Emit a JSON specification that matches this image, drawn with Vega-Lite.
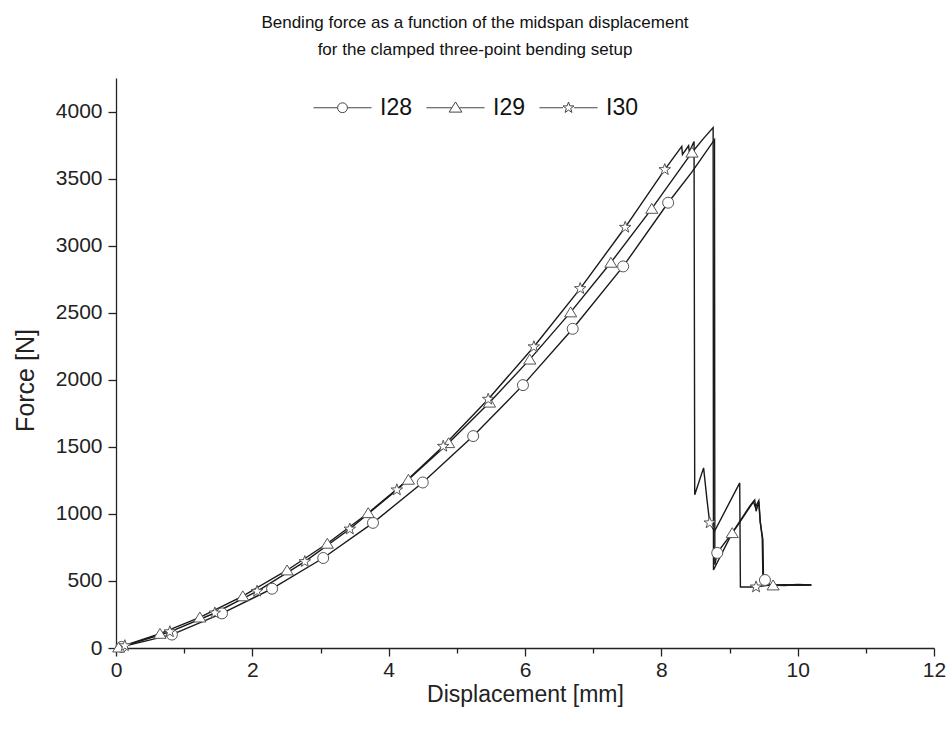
{
  "$schema": "https://vega.github.io/schema/vega-lite/v6.json",
  "width": 818,
  "height": 570,
  "autosize": {"type": "none"},
  "padding": {"left": 116, "top": 78, "right": 15, "bottom": 83},
  "background": "white",
  "config": {"view": {"stroke": null}, "font": "Liberation Sans"},
  "title": {
    "text": ["Bending force as a function of the midspan displacement", "for the clamped three-point bending setup"],
    "font": "Liberation Sans",
    "fontSize": 17,
    "fontWeight": "normal",
    "color": "#111",
    "anchor": "middle",
    "dx": -50,
    "offset": 19,
    "lineHeight": 27
  },
  "datasets": {
    "curves": [
      {"s": "I28", "x": 0, "y": 0, "m": 0},
      {"s": "I28", "x": 0.08, "y": 8, "m": 1},
      {"s": "I28", "x": 0.82, "y": 100, "m": 1},
      {"s": "I28", "x": 1.555, "y": 258, "m": 1},
      {"s": "I28", "x": 2.29, "y": 442, "m": 1},
      {"s": "I28", "x": 3.04, "y": 671, "m": 1},
      {"s": "I28", "x": 3.77, "y": 933, "m": 1},
      {"s": "I28", "x": 4.5, "y": 1234, "m": 1},
      {"s": "I28", "x": 5.24, "y": 1580, "m": 1},
      {"s": "I28", "x": 5.97, "y": 1960, "m": 1},
      {"s": "I28", "x": 6.7, "y": 2380, "m": 1},
      {"s": "I28", "x": 7.44, "y": 2845, "m": 1},
      {"s": "I28", "x": 8.1, "y": 3320, "m": 1},
      {"s": "I28", "x": 8.45, "y": 3550, "m": 0},
      {"s": "I28", "x": 8.78, "y": 3790, "m": 0},
      {"s": "I28", "x": 8.785, "y": 620, "m": 0},
      {"s": "I28", "x": 8.82, "y": 709, "m": 1},
      {"s": "I28", "x": 9.1, "y": 900, "m": 0},
      {"s": "I28", "x": 9.35, "y": 1090, "m": 0},
      {"s": "I28", "x": 9.38, "y": 1050, "m": 0},
      {"s": "I28", "x": 9.43, "y": 1100, "m": 0},
      {"s": "I28", "x": 9.45, "y": 950, "m": 0},
      {"s": "I28", "x": 9.48, "y": 820, "m": 0},
      {"s": "I28", "x": 9.49, "y": 520, "m": 0},
      {"s": "I28", "x": 9.52, "y": 507, "m": 1},
      {"s": "I28", "x": 9.6, "y": 472, "m": 0},
      {"s": "I28", "x": 9.8, "y": 468, "m": 0},
      {"s": "I28", "x": 10.0, "y": 474, "m": 0},
      {"s": "I28", "x": 10.2, "y": 470, "m": 0},
      {"s": "I29", "x": 0, "y": 0, "m": 0},
      {"s": "I29", "x": 0.04, "y": 5, "m": 1},
      {"s": "I29", "x": 0.645, "y": 107, "m": 1},
      {"s": "I29", "x": 1.23, "y": 229, "m": 1},
      {"s": "I29", "x": 1.86, "y": 387, "m": 1},
      {"s": "I29", "x": 2.51, "y": 580, "m": 1},
      {"s": "I29", "x": 3.1, "y": 779, "m": 1},
      {"s": "I29", "x": 3.7, "y": 1007, "m": 1},
      {"s": "I29", "x": 4.29, "y": 1256, "m": 1},
      {"s": "I29", "x": 4.88, "y": 1529, "m": 1},
      {"s": "I29", "x": 5.48, "y": 1831, "m": 1},
      {"s": "I29", "x": 6.07, "y": 2152, "m": 1},
      {"s": "I29", "x": 6.67, "y": 2504, "m": 1},
      {"s": "I29", "x": 7.26, "y": 2874, "m": 1},
      {"s": "I29", "x": 7.86, "y": 3276, "m": 1},
      {"s": "I29", "x": 8.45, "y": 3695, "m": 1},
      {"s": "I29", "x": 8.62, "y": 3800, "m": 0},
      {"s": "I29", "x": 8.76, "y": 3880, "m": 0},
      {"s": "I29", "x": 8.765, "y": 582, "m": 0},
      {"s": "I29", "x": 9.04, "y": 858, "m": 1},
      {"s": "I29", "x": 9.3, "y": 1060, "m": 0},
      {"s": "I29", "x": 9.37, "y": 1104, "m": 0},
      {"s": "I29", "x": 9.39, "y": 1020, "m": 0},
      {"s": "I29", "x": 9.43, "y": 1090, "m": 0},
      {"s": "I29", "x": 9.45, "y": 940, "m": 0},
      {"s": "I29", "x": 9.49, "y": 806, "m": 0},
      {"s": "I29", "x": 9.5, "y": 470, "m": 0},
      {"s": "I29", "x": 9.64, "y": 468, "m": 1},
      {"s": "I29", "x": 9.8, "y": 472, "m": 0},
      {"s": "I29", "x": 10.0, "y": 468, "m": 0},
      {"s": "I29", "x": 10.2, "y": 471, "m": 0},
      {"s": "I30", "x": 0, "y": 0, "m": 0},
      {"s": "I30", "x": 0.13, "y": 17, "m": 1},
      {"s": "I30", "x": 0.79, "y": 121, "m": 1},
      {"s": "I30", "x": 1.45, "y": 261, "m": 1},
      {"s": "I30", "x": 2.07, "y": 423, "m": 1},
      {"s": "I30", "x": 2.77, "y": 644, "m": 1},
      {"s": "I30", "x": 3.43, "y": 887, "m": 1},
      {"s": "I30", "x": 4.12, "y": 1179, "m": 1},
      {"s": "I30", "x": 4.8, "y": 1504, "m": 1},
      {"s": "I30", "x": 5.46, "y": 1855, "m": 1},
      {"s": "I30", "x": 6.13, "y": 2246, "m": 1},
      {"s": "I30", "x": 6.81, "y": 2680, "m": 1},
      {"s": "I30", "x": 7.47, "y": 3137, "m": 1},
      {"s": "I30", "x": 8.05, "y": 3567, "m": 1},
      {"s": "I30", "x": 8.3, "y": 3740, "m": 0},
      {"s": "I30", "x": 8.31, "y": 3680, "m": 0},
      {"s": "I30", "x": 8.4, "y": 3745, "m": 0},
      {"s": "I30", "x": 8.41, "y": 3700, "m": 0},
      {"s": "I30", "x": 8.48, "y": 3776, "m": 0},
      {"s": "I30", "x": 8.49, "y": 1142, "m": 0},
      {"s": "I30", "x": 8.62, "y": 1343, "m": 0},
      {"s": "I30", "x": 8.67, "y": 1104, "m": 0},
      {"s": "I30", "x": 8.71, "y": 933, "m": 1},
      {"s": "I30", "x": 8.78, "y": 870, "m": 0},
      {"s": "I30", "x": 9.15, "y": 1231, "m": 0},
      {"s": "I30", "x": 9.16, "y": 455, "m": 0},
      {"s": "I30", "x": 9.39, "y": 455, "m": 1},
      {"s": "I30", "x": 9.6, "y": 470, "m": 0},
      {"s": "I30", "x": 9.8, "y": 466, "m": 0},
      {"s": "I30", "x": 10.0, "y": 471, "m": 0},
      {"s": "I30", "x": 10.2, "y": 469, "m": 0}
    ]
  },
  "layer": [
    {
      "data": {"name": "curves"},
      "mark": {"type": "line", "stroke": "#1a1a1a", "strokeWidth": 1.4},
      "encoding": {
        "x": {
          "field": "x", "type": "quantitative",
          "scale": {"domain": [0, 12], "nice": false, "zero": false},
          "axis": {
            "title": "Displacement [mm]",
            "values": [0, 1, 2, 3, 4, 5, 6, 7, 8, 9, 10, 11, 12],
            "labelExpr": "datum.value % 2 === 0 ? datum.label : ''",
            "format": "d",
            "grid": false,
            "domainColor": "#222", "domainWidth": 1.3,
            "tickColor": "#222", "tickWidth": 1.3,
            "tickSize": {"condition": {"test": "datum.value % 2 === 0", "value": 8}, "value": 5},
            "labelFont": "Liberation Sans", "labelFontSize": 21, "labelColor": "#222", "labelPadding": 3,
            "labelFlush": false, "labelOverlap": false,
            "titleFont": "Liberation Sans", "titleFontSize": 23, "titleFontWeight": "normal", "titleColor": "#222",
            "titlePadding": 3
          }
        },
        "y": {
          "field": "y", "type": "quantitative",
          "scale": {"domain": [0, 4250], "nice": false, "zero": false},
          "axis": {
            "title": "Force [N]",
            "values": [0, 250, 500, 750, 1000, 1250, 1500, 1750, 2000, 2250, 2500, 2750, 3000, 3250, 3500, 3750, 4000, 4250],
            "labelExpr": "datum.value % 500 === 0 ? datum.label : ''",
            "format": "d",
            "grid": false,
            "domainColor": "#222", "domainWidth": 1.3,
            "tickColor": "#222", "tickWidth": 1.3,
            "tickSize": {"condition": {"test": "datum.value % 500 === 0", "value": 8}, "value": 5},
            "labelFont": "Liberation Sans", "labelFontSize": 21, "labelColor": "#222", "labelPadding": 6,
            "labelFlush": false, "labelOverlap": false,
            "titleFont": "Liberation Sans", "titleFontSize": 25, "titleFontWeight": "normal", "titleColor": "#222",
            "titleX": -91, "titleY": 302, "titleBaseline": "middle", "titleAngle": -90
          }
        },
        "detail": {"field": "s", "type": "nominal"}
      }
    },
    {
      "data": {"name": "curves"},
      "transform": [{"filter": "datum.m === 1"}],
      "mark": {"type": "point", "filled": true, "fill": "white", "stroke": "#555", "strokeWidth": 1, "size": 121, "opacity": 1},
      "encoding": {
        "x": {"field": "x", "type": "quantitative"},
        "y": {"field": "y", "type": "quantitative"},
        "shape": {
          "field": "s", "type": "nominal",
          "scale": {
            "domain": ["I28", "I29", "I30"],
            "range": [
              "M-1,0A1,1 0 1,0 1,0A1,1 0 1,0 -1,0Z",
              "M0,-0.95L1.1,0.85L-1.1,0.85Z",
              "M0,-1.1L0.26,-0.36L1.05,-0.34L0.42,0.14L0.65,0.89L0,0.44L-0.65,0.89L-0.42,0.14L-1.05,-0.34L-0.26,-0.36Z"
            ]
          },
          "legend": null
        }
      }
    },
    {
      "data": {"values": []},
      "mark": {"type": "point", "filled": false, "stroke": "#444", "strokeWidth": 1, "opacity": 1},
      "encoding": {
        "x": {"field": "x", "type": "quantitative"},
        "y": {"field": "y", "type": "quantitative"},
        "shape": {
          "field": "s", "type": "nominal",
          "scale": {
            "domain": ["I28", "I29", "I30"],
            "range": [
              "M-1,0L-0.17,0M0.17,0L1,0M-0.17,0A0.17,0.17 0 1,0 0.17,0A0.17,0.17 0 1,0 -0.17,0Z",
              "M-1,0L-0.13,0M0.13,0L1,0M0,-0.2L0.22,0.15L-0.22,0.15Z",
              "M-1,0L-0.19,0M0.19,0L1,0M0,-0.2L0.047,-0.065L0.19,-0.062L0.076,0.025L0.118,0.162L0,0.08L-0.118,0.162L-0.076,0.025L-0.19,-0.062L-0.047,-0.065Z"
            ]
          },
          "legend": {
            "title": null,
            "orient": "none",
            "direction": "horizontal",
            "legendX": 197,
            "legendY": 0,
            "padding": 0,
            "symbolSize": 3364,
            "symbolFillColor": "white",
            "symbolStrokeColor": "#444",
            "symbolStrokeWidth": 1,
            "symbolOpacity": 1,
            "labelFont": "Liberation Sans",
            "labelFontSize": 23,
            "labelColor": "#111",
            "labelOffset": 8,
            "columnPadding": 12,
            "encode": {
              "symbols": {
                "update": {
                  "stroke": {"value": "#444"},
                  "fill": {"value": "white"},
                  "strokeWidth": {"value": 1},
                  "opacity": {"value": 1},
                  "size": {"value": 3364}
                }
              }
            }
          }
        }
      }
    }
  ],
  "resolve": {"scale": {"shape": "independent"}}
}
